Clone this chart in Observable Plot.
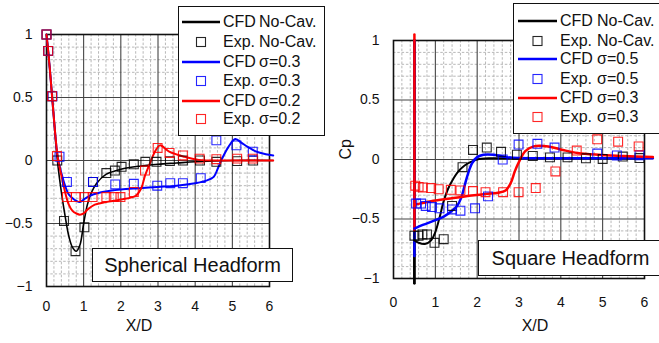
<!DOCTYPE html>
<html><head><meta charset="utf-8">
<script src="https://cdn.jsdelivr.net/npm/d3@7"></script>
<script src="https://cdn.jsdelivr.net/npm/@observablehq/plot@0.6"></script>
<style>
html,body{margin:0;padding:0;background:#fff;overflow:hidden;}
#fig{position:relative;width:659px;height:343px;font-family:"Liberation Sans",Arial,sans-serif;overflow:hidden;background:#fff;}
.panel{position:absolute;top:0;}
.box{position:absolute;background:#fff;border:1px solid #111;box-sizing:border-box;}
.row{position:absolute;height:20px;line-height:20px;font-size:16px;color:#111;white-space:nowrap;}
.sw{position:absolute;overflow:visible;}
.ann{position:absolute;background:#fff;border:1px solid #111;box-sizing:border-box;font-size:20px;color:#111;text-align:center;white-space:nowrap;}
</style></head>
<body><div id="fig"></div>
<script>
// ---------- axis ticks ----------
const xTicks = [0, 1, 2, 3, 4, 5, 6];
const yTicks = [-1, -0.5, 0, 0.5, 1];

// ---------- Spherical headform (left) ----------
const sphCfdNoCav = [[0,1],[0.045,0.87],[0.1,0.69],[0.15,0.51],[0.2,0.33],[0.3,-0.02],[0.4,-0.25],[0.5,-0.44],[0.6,-0.6],[0.7,-0.69],[0.8,-0.72],[0.9,-0.67],[1.0,-0.5],[1.1,-0.35],[1.2,-0.26],[1.35,-0.18],[1.6,-0.11],[2,-0.07],[2.5,-0.045],[3,-0.03],[3.5,-0.02],[4,-0.01],[5,0],[6.1,0]];
const sphCfdS03 = [[0,1],[0.045,0.87],[0.1,0.69],[0.15,0.51],[0.2,0.33],[0.3,0.03],[0.4,-0.1],[0.5,-0.2],[0.6,-0.27],[0.7,-0.3],[0.8,-0.32],[0.9,-0.33],[1.0,-0.31],[1.1,-0.29],[1.25,-0.27],[1.5,-0.25],[2,-0.23],[2.5,-0.22],[3,-0.21],[3.5,-0.2],[4,-0.18],[4.3,-0.16],[4.5,-0.13],[4.6,-0.07],[4.7,0.0],[4.9,0.11],[5.08,0.17],[5.25,0.14],[5.4,0.11],[5.65,0.07],[5.9,0.05],[6.1,0.04]];
const sphCfdS02 = [[0,1],[0.045,0.87],[0.1,0.69],[0.15,0.51],[0.2,0.33],[0.3,0.03],[0.4,-0.12],[0.5,-0.25],[0.6,-0.35],[0.7,-0.4],[0.8,-0.42],[0.9,-0.43],[1.0,-0.42],[1.1,-0.39],[1.3,-0.35],[1.6,-0.33],[2.0,-0.31],[2.4,-0.28],[2.55,-0.22],[2.65,-0.12],[2.8,-0.01],[2.9,0.06],[3.05,0.12],[3.3,0.07],[3.7,0.03],[4.1,0.005],[5,0],[6.1,0]];
const sphExpNoCav = [[0,1.0],[0.045,0.87],[0.15,0.51],[0.29,0.0],[0.47,-0.48],[0.78,-0.72],[1.02,-0.53],[1.25,-0.17],[1.61,-0.1],[1.84,-0.08],[2.02,-0.05],[2.35,-0.03],[2.66,-0.01],[2.96,-0.01],[3.32,-0.005],[3.67,0.0],[4.13,0.0],[4.57,-0.01],[5.13,-0.005],[5.56,0.0]];
const sphExpS03 = [[0,1.0],[0.045,0.87],[0.16,0.51],[0.35,0.03],[0.55,-0.17],[1.25,-0.17],[1.85,-0.19],[2.35,-0.185],[2.98,-0.2],[3.33,-0.18],[3.67,-0.18],[4.15,-0.14],[4.57,0.16],[5.11,0.12],[5.55,0.07]];
const sphExpS02 = [[0,1.0],[0.045,0.87],[0.15,0.51],[0.28,0.035],[0.55,-0.29],[0.79,-0.29],[1.02,-0.29],[1.24,-0.29],[1.61,-0.29],[1.81,-0.29],[1.99,-0.29],[2.35,-0.25],[2.65,-0.08],[2.99,0.1],[3.31,0.06],[3.67,0.04],[4.12,0.015],[4.57,0.01],[5.13,0.015],[5.55,0.015]];

// ---------- Square headform (right) ----------
const sqFaceNoCav = [[0.5,1.0],[0.5,-1.04]];
const sqFaceS05 = [[0.5,1.0],[0.5,-0.81]];
const sqFaceS03 = [[0.5,1.05],[0.5,-0.6]];
const sqCfdNoCav = [[0.5,-0.68],[0.6,-0.7],[0.75,-0.71],[0.9,-0.68],[1.0,-0.61],[1.1,-0.49],[1.2,-0.35],[1.3,-0.25],[1.4,-0.18],[1.55,-0.1],[1.7,-0.05],[1.85,-0.02],[2.0,0.0],[2.3,0.01],[3,0.01],[4,0.01],[5,0.01],[6.2,0.01]];
const sqCfdS05 = [[0.5,-0.58],[0.7,-0.55],[1.0,-0.51],[1.2,-0.48],[1.4,-0.43],[1.52,-0.39],[1.62,-0.32],[1.7,-0.22],[1.78,-0.12],[1.88,-0.03],[2.0,0.02],[2.15,0.04],[2.4,0.04],[2.7,0.02],[3,0.012],[4,0.01],[5,0.01],[6.2,0.01]];
const sqCfdS03 = [[0.5,-0.38],[0.9,-0.35],[1.3,-0.33],[1.7,-0.31],[2.2,-0.29],[2.5,-0.28],[2.68,-0.26],[2.8,-0.2],[2.9,-0.1],[3.0,-0.02],[3.15,0.07],[3.35,0.11],[3.7,0.11],[4.05,0.08],[4.4,0.055],[4.9,0.04],[5.5,0.03],[6.2,0.02]];
const sqExpNoCav = [[0.5,-0.64],[0.6,-0.64],[0.69,-0.63],[0.8,-0.63],[0.98,-0.7],[1.2,-0.67],[1.4,-0.39],[1.65,-0.065],[1.9,0.08],[2.23,0.1],[2.57,0.065],[2.95,0.04],[3.33,0.03],[3.74,0.018],[4.16,0.018],[4.6,0.01],[5.0,0.005],[5.48,0.025],[5.88,0.012]];
const sqExpS05 = [[0.54,-0.37],[0.66,-0.37],[0.77,-0.39],[0.92,-0.4],[1.1,-0.41],[1.4,-0.42],[1.6,-0.43],[1.95,-0.41],[2.26,-0.31],[2.61,0.0],[2.99,0.126],[3.44,0.132],[3.85,0.1],[4.87,0.05],[5.34,0.034],[5.88,0.035]];
const sqExpS03 = [[0.52,-0.22],[0.6,-0.23],[0.7,-0.235],[0.9,-0.24],[1.08,-0.25],[1.37,-0.255],[1.6,-0.26],[1.9,-0.265],[2.2,-0.275],[2.62,-0.275],[2.99,-0.275],[3.4,-0.24],[3.87,-0.1],[4.38,0.075],[4.87,0.17],[5.37,0.15],[5.86,0.11]];

// ---------- legend / labels ----------
const legendLeft = [["CFD","No-Cav.","line","#000"],["Exp.","No-Cav.","sq","#000"],["CFD","σ=0.3","line","#0000ff"],["Exp.","σ=0.3","sq","#0000ff"],["CFD","σ=0.2","line","#ff0000"],["Exp.","σ=0.2","sq","#ff0000"]];
const legendRight = [["CFD","No-Cav.","line","#000"],["Exp.","No-Cav.","sq","#000"],["CFD","σ=0.5","line","#0000ff"],["Exp.","σ=0.5","sq","#0000ff"],["CFD","σ=0.3","line","#ff0000"],["Exp.","σ=0.3","sq","#ff0000"]];
const titleLeft = "Spherical Headform";
const titleRight = "Square Headform";
const xLabel = "X/D";
const yLabelRight = "Cp";

const xMinor = d3.range(0, 6.001, 0.2).filter(v => Math.abs(v - Math.round(v)) > 1e-6);
const yMinor = d3.range(-1, 1.001, 0.1).filter(v => Math.abs(v*2 - Math.round(v*2)) > 1e-6);
const fmt = d => d < 0 ? "\u2212" + (-d) : String(d);
const X = d => d[0], Y = d => d[1];

function panel(o) {
  const marks = [
    Plot.gridX(xMinor, {stroke:"#b0b0b0", strokeOpacity:1, strokeDasharray:"2.5,1.8", strokeWidth:0.9}),
    Plot.gridY(yMinor, {stroke:"#b0b0b0", strokeOpacity:1, strokeDasharray:"2.5,1.8", strokeWidth:0.9}),
    Plot.gridX(xTicks, {stroke:"#333", strokeOpacity:1, strokeWidth:1}),
    Plot.gridY(yTicks, {stroke:"#444", strokeOpacity:1, strokeWidth:1.2}),
    Plot.frame({stroke:"#111", strokeWidth:1.6}),
    Plot.axisX(xTicks, {tickSize:0, tickPadding:o.xPad, fontSize:14, label:null}),
    Plot.axisY(yTicks, {tickSize:0, tickPadding:14, fontSize:14, tickFormat:fmt, label:null}),
    Plot.text([xLabel], {frameAnchor:"bottom", dx:o.xLabDx, dy:o.xLabDy, fontSize:16, fill:"#111"})
  ];
  if (o.yLabel) marks.push(Plot.text([o.yLabel], {frameAnchor:"left", dx:o.yLabDx, rotate:-90, fontSize:16, fill:"#111"}));
  for (const f of o.faces) marks.push(Plot.line(f.data, {x:X, y:Y, stroke:f.color, strokeWidth:f.w}));
  for (const l of o.lines) marks.push(Plot.line(l.data, {x:X, y:Y, stroke:l.color, strokeWidth:l.w, curve:"catmull-rom"}));
  for (const s of o.squares) marks.push(Plot.dot(s.data, {x:X, y:Y, symbol:"square", r:5, stroke:s.color, strokeWidth:1.1, fill:"none", strokeOpacity:0.85}));
  return Plot.plot({
    width:o.width, height:343, marginLeft:o.mL, marginRight:o.mR, marginTop:o.mT, marginBottom:o.mB,
    x:{domain:[0,6]}, y:{domain:[-1,1]},
    style:{fontFamily:'"Liberation Sans", Arial, sans-serif', fontSize:"14px", color:"#111", background:"transparent", overflow:"visible"},
    marks
  });
}

const fig = document.getElementById("fig");
const left = panel({width:330, mL:46, mR:61, mT:34, mB:57, xPad:15, xLabDx:-19, xLabDy:44, yLabel:null,
  faces:[],
  lines:[{data:sphCfdNoCav,color:"#000",w:1.6},{data:sphCfdS03,color:"#0000ff",w:2},{data:sphCfdS02,color:"#ff0000",w:2}],
  squares:[{data:sphExpNoCav,color:"#000"},{data:sphExpS03,color:"#0000ff"},{data:sphExpS02,color:"#ff0000"}]});
left.classList.add("panel"); left.style.left = "0px";
fig.appendChild(left);

const right = panel({width:329, mL:63, mR:15, mT:40, mB:65, xPad:19, xLabDx:16, xLabDy:52, yLabel:yLabelRight, yLabDx:-48,
  faces:[{data:sqFaceNoCav,color:"#000",w:2.8},{data:sqFaceS05,color:"#0000ff",w:2.5},{data:sqFaceS03,color:"#ff0000",w:2.5}],
  lines:[{data:sqCfdNoCav,color:"#000",w:2},{data:sqCfdS05,color:"#0000ff",w:2.5},{data:sqCfdS03,color:"#ff0000",w:2.5}],
  squares:[{data:sqExpNoCav,color:"#000"},{data:sqExpS05,color:"#0000ff"},{data:sqExpS03,color:"#ff0000"}]});
right.classList.add("panel"); right.style.left = "330px";
fig.appendChild(right);

function legend(items, bx, by, bw, bh, swL, swR, c1, c2, rows) {
  const box = document.createElement("div");
  box.className = "box";
  Object.assign(box.style, {left:bx+"px", top:by+"px", width:bw+"px", height:bh+"px"});
  fig.appendChild(box);
  items.forEach((it, i) => {
    const cy = rows[i];
    const ns = "http://www.w3.org/2000/svg";
    const svg = document.createElementNS(ns, "svg");
    svg.setAttribute("class", "sw");
    svg.setAttribute("width", swR - swL); svg.setAttribute("height", 14);
    svg.style.left = swL + "px"; svg.style.top = (cy - 7) + "px";
    if (it[2] === "line") {
      const ln = document.createElementNS(ns, "line");
      ln.setAttribute("x1", 0); ln.setAttribute("x2", swR - swL); ln.setAttribute("y1", 7); ln.setAttribute("y2", 7);
      ln.setAttribute("stroke", it[3]); ln.setAttribute("stroke-width", 2.5);
      svg.appendChild(ln);
    } else {
      const r = document.createElementNS(ns, "rect");
      const cx = (swR - swL) / 2;
      r.setAttribute("x", cx - 4.5); r.setAttribute("y", 2.5); r.setAttribute("width", 9); r.setAttribute("height", 9);
      r.setAttribute("fill", "none"); r.setAttribute("stroke", it[3]); r.setAttribute("stroke-width", 1.1); r.setAttribute("stroke-opacity", 0.85);
      svg.appendChild(r);
    }
    fig.appendChild(svg);
    const t1 = document.createElement("div"); t1.className = "row"; t1.textContent = it[0];
    t1.style.left = c1 + "px"; t1.style.top = (cy - 10) + "px"; fig.appendChild(t1);
    const t2 = document.createElement("div"); t2.className = "row"; t2.textContent = it[1];
    t2.style.left = c2 + "px"; t2.style.top = (cy - 10) + "px"; fig.appendChild(t2);
  });
}
legend(legendLeft, 178, 6, 147, 130, 182, 220, 223, 259, [22, 42, 62, 81, 101, 119]);
legend(legendRight, 513, 3, 160, 131, 518, 557, 560, 597, [21, 41, 59, 79, 98, 117]);

function annot(text, x, y, w, h) {
  const d = document.createElement("div");
  d.className = "ann"; d.textContent = text;
  Object.assign(d.style, {left:x+"px", top:y+"px", width:w+"px", height:h+"px", lineHeight:(h-2)+"px"});
  fig.appendChild(d);
}
annot(titleLeft, 92, 248, 201, 34);
annot(titleRight, 478, 240, 185, 36);
</script></body></html>
